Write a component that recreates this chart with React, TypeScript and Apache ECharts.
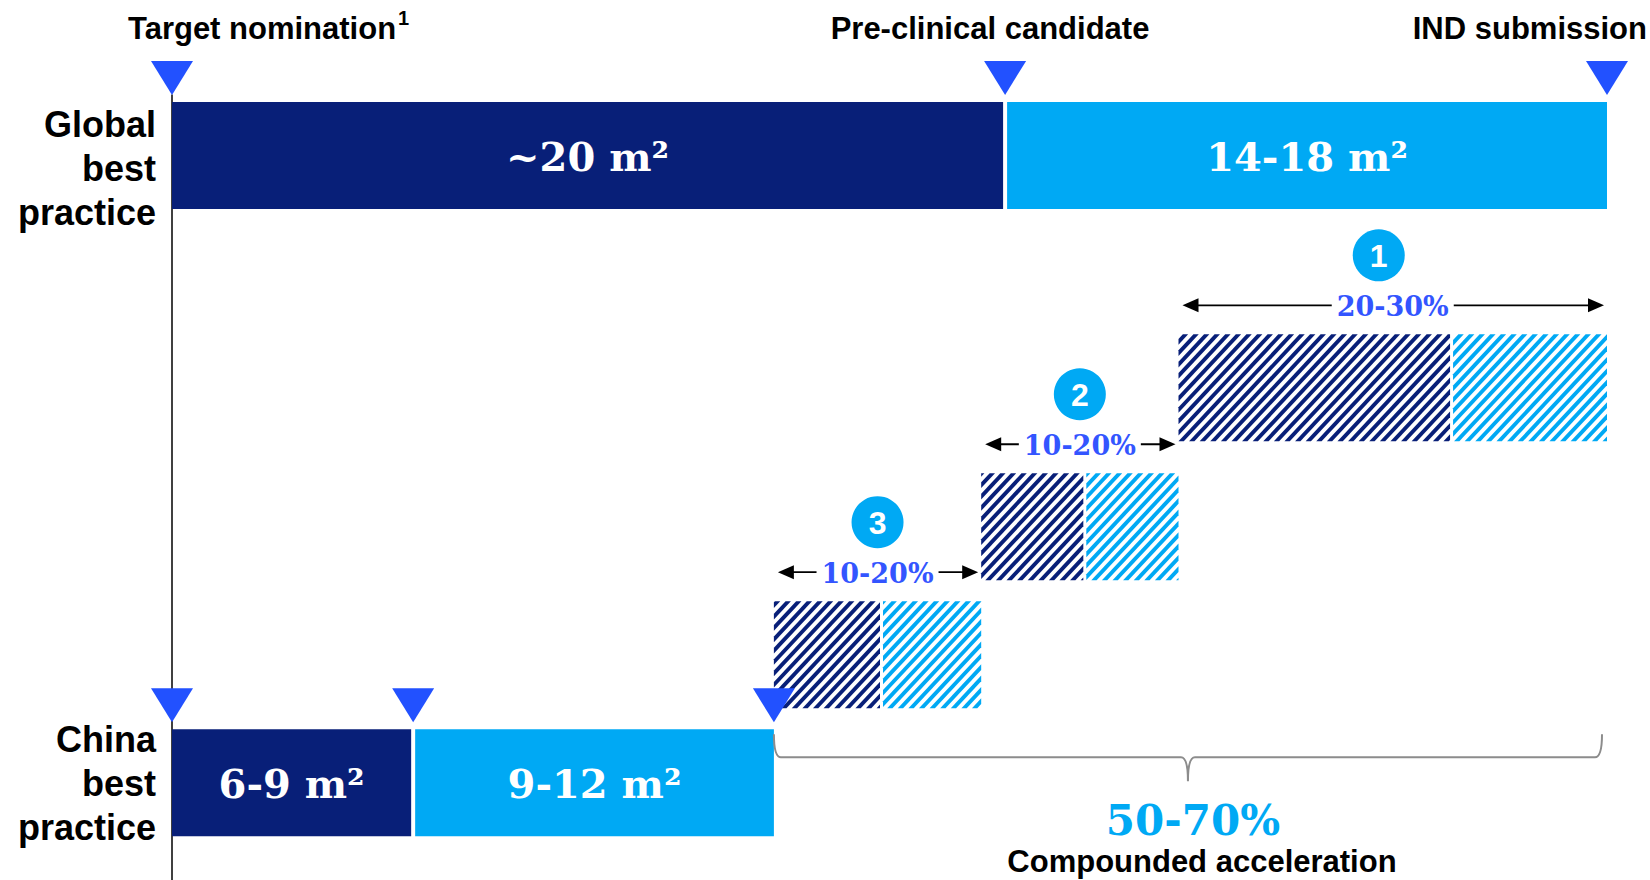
import React, { useEffect, useRef } from "react";
import * as echarts from "echarts";

// ---------- data (schematic timeline, months) ----------
const milestoneNames = ["Target nomination", "Pre-clinical candidate", "IND submission"];
const milestoneNotes = ["1", "", ""];
const rowNames = ["Global\nbest\npractice", "China\nbest\npractice"];
const rowLevels = [7.7, 87.6];
const globalStarts = [0, 20.9];
const globalEnds = [20.9, 36];
const globalLabels = ["~20 m²", "14-18 m²"];
const chinaStarts = [0, 6.05];
const chinaEnds = [6.05, 15.1];
const chinaLabels = ["6-9 m²", "9-12 m²"];
const globalMilestones = [0, 20.9, 36];
const chinaMilestones = [0, 6.05, 15.1];
const leverIds = ["1", "2", "3"];
const leverStarts = [25.25, 20.3, 15.1];
const leverSplits = [32.1, 22.9, 17.8];
const leverEnds = [36, 25.25, 20.3];
const leverLevels = [37.3, 55.0, 71.3];
const leverRanges = ["20-30%", "10-20%", "10-20%"];
const compoundedRange = "50-70%";
const compoundedLabel = "Compounded acceleration";

// ---------- styles ----------
const NAVY = "#081F78";
const CYAN = "#00A9F4";
const TRI = "#2251FF";
const PCT = "#3355FF";
const SANS = '"Liberation Sans", Arial, sans-serif';
const SERIF = '"DejaVu Serif", Georgia, serif';
const BAR_H = 107;
const SEG_GAP = 4;
const STRIPE_PERIOD = 10.6;
const STRIPE_DUTY = 0.5;
const STRIPE_ANGLE = (47 * Math.PI) / 180;
const ROW_LABEL_SHIFT = [13, 1];
const CIRCLE_SHIFT = [-14, 0, 0];

type Pt = [number, number];

function clipPoly(poly: Pt[], fn: (p: Pt) => number): Pt[] {
  const out: Pt[] = [];
  for (let i = 0; i < poly.length; i++) {
    const cur = poly[i];
    const prev = poly[(i + poly.length - 1) % poly.length];
    const fc = fn(cur);
    const fp = fn(prev);
    const cIn = fc >= 0;
    const pIn = fp >= 0;
    if (cIn !== pIn) {
      const t = fp / (fp - fc);
      out.push([prev[0] + t * (cur[0] - prev[0]), prev[1] + t * (cur[1] - prev[1])]);
    }
    if (cIn) out.push(cur);
  }
  return out;
}

function stripes(x0: number, y0: number, x1: number, y1: number, color: string) {
  const s = Math.sin(STRIPE_ANGLE);
  const c = Math.cos(STRIPE_ANGLE);
  const f = (p: Pt) => p[0] * s + p[1] * c;
  const P = STRIPE_PERIOD * s;
  const rect: Pt[] = [
    [x0, y0],
    [x1, y0],
    [x1, y1],
    [x0, y1],
  ];
  const vals = rect.map(f);
  const fmin = Math.min(...vals);
  const fmax = Math.max(...vals);
  const children: any[] = [];
  for (let k = Math.floor(fmin / P) - 1; k <= Math.ceil(fmax / P); k++) {
    const a = k * P;
    const b = a + P * STRIPE_DUTY;
    let poly = clipPoly(rect, (p) => f(p) - a);
    poly = clipPoly(poly, (p) => b - f(p));
    if (poly.length >= 3) {
      children.push({ type: "polygon", shape: { points: poly }, style: { fill: color } });
    }
  }
  return children;
}

const solidLabels = [...globalLabels, ...chinaLabels];
const solidData = [
  ...globalStarts.map((s, i) => [s, globalEnds[i], rowLevels[0], i]),
  ...chinaStarts.map((s, i) => [s, chinaEnds[i], rowLevels[1], i]),
];
const milestoneData = [
  ...globalMilestones.map((m) => [m, rowLevels[0]]),
  ...chinaMilestones.map((m) => [m, rowLevels[1]]),
];
const leverData = leverIds.map((_, i) => [leverStarts[i], leverSplits[i], leverEnds[i], leverLevels[i]]);

const milestoneRich = {
  n: { font: `bold 31px ${SANS}`, fill: "#000", verticalAlign: "bottom", lineHeight: 36 },
  s: { font: `bold 20px ${SANS}`, fill: "#000", verticalAlign: "top", lineHeight: 36, padding: [0, 0, 0, 2] },
};

function milestoneText(i: number) {
  return milestoneNotes[i] ? `{n|${milestoneNames[i]}}{s|${milestoneNotes[i]}}` : `{n|${milestoneNames[i]}}`;
}

function buildOption(): any {
  const labelX = [128, 990, 1647];
  const labelAlign = ["left", "center", "right"];
  return {
    animation: false,
    grid: { left: 172, right: 43, top: 95, bottom: 0 },
    xAxis: { type: "value", min: 0, max: 36, show: false },
    yAxis: {
      type: "value",
      min: 0,
      max: 100,
      inverse: true,
      axisLine: { show: true, lineStyle: { color: "#000", width: 1.5 } },
      axisTick: { show: false },
      axisLabel: { show: false },
      splitLine: { show: false },
    },
    graphic: milestoneNames.map((_, i) => ({
      type: "text",
      x: labelX[i],
      y: 26,
      style: {
        text: milestoneText(i),
        rich: milestoneRich,
        font: `bold 31px ${SANS}`,
        fill: "#000",
        align: labelAlign[i],
        verticalAlign: "middle",
      },
    })),
    series: [
      {
        type: "custom",
        name: "phases",
        silent: true,
        clip: false,
        data: solidData,
        renderItem: (params: any, api: any) => {
          const x0 = api.value(0);
          const x1 = api.value(1);
          const lvl = api.value(2);
          const ph = api.value(3);
          const a = api.coord([x0, lvl]);
          const b = api.coord([x1, lvl]);
          const left = a[0] + (x0 > 0 ? SEG_GAP / 2 : 0);
          const right = b[0] - (ph === 0 ? SEG_GAP / 2 : 0);
          const top = a[1] - BAR_H / 2;
          return {
            type: "group",
            children: [
              {
                type: "rect",
                shape: { x: left, y: top, width: right - left, height: BAR_H },
                style: { fill: ph === 0 ? NAVY : CYAN },
              },
              {
                type: "text",
                x: (left + right) / 2,
                y: a[1] + 1,
                style: {
                  text: solidLabels[params.dataIndex],
                  font: `bold 40px ${SERIF}`,
                  fill: "#fff",
                  align: "center",
                  verticalAlign: "middle",
                },
              },
            ],
          };
        },
      },
      {
        type: "custom",
        name: "levers",
        silent: true,
        clip: false,
        data: leverData,
        renderItem: (params: any, api: any) => {
          const i = params.dataIndex;
          const lvl = api.value(3);
          const a = api.coord([api.value(0), lvl]);
          const m = api.coord([api.value(1), lvl]);
          const b = api.coord([api.value(2), lvl]);
          const top = a[1] - BAR_H / 2;
          const bottom = top + BAR_H;
          const children: any[] = [
            ...stripes(a[0], top, m[0] - 1.5, bottom, NAVY),
            ...stripes(m[0] + 1.5, top, b[0], bottom, CYAN),
          ];
          const ay = top - 29;
          const xl = a[0] + 4;
          const xr = b[0] - 3;
          const cx = (a[0] + b[0]) / 2;
          const ccx = cx + CIRCLE_SHIFT[i];
          children.push(
            { type: "line", shape: { x1: xl + 12, y1: ay, x2: xr - 12, y2: ay }, style: { stroke: "#000", lineWidth: 1.8 } },
            { type: "polygon", shape: { points: [[xl, ay], [xl + 16, ay - 7], [xl + 16, ay + 7]] }, style: { fill: "#000" } },
            { type: "polygon", shape: { points: [[xr, ay], [xr - 16, ay - 7], [xr - 16, ay + 7]] }, style: { fill: "#000" } },
            {
              type: "text",
              x: cx,
              y: ay + 1,
              style: {
                text: leverRanges[i],
                font: `bold 27px ${SERIF}`,
                fill: PCT,
                align: "center",
                verticalAlign: "middle",
                backgroundColor: "#fff",
                padding: [0, 5],
              },
            },
            { type: "circle", shape: { cx: ccx, cy: top - 79, r: 26 }, style: { fill: CYAN } },
            {
              type: "text",
              x: ccx,
              y: top - 78,
              style: {
                text: leverIds[i],
                font: `bold 32px ${SANS}`,
                fill: "#fff",
                align: "center",
                verticalAlign: "middle",
              },
            }
          );
          return { type: "group", children };
        },
      },
      {
        type: "custom",
        name: "milestones",
        silent: true,
        clip: false,
        data: milestoneData,
        renderItem: (params: any, api: any) => {
          const p = api.coord([api.value(0), api.value(1)]);
          const top = p[1] - BAR_H / 2;
          return {
            type: "polygon",
            shape: {
              points: [
                [p[0] - 21, top - 41],
                [p[0] + 21, top - 41],
                [p[0], top - 7],
              ],
            },
            style: { fill: TRI },
          };
        },
      },
      {
        type: "custom",
        name: "rows",
        silent: true,
        clip: false,
        data: rowLevels.map((l) => [0, l]),
        renderItem: (params: any, api: any) => {
          const p = api.coord([api.value(0), api.value(1)]);
          return {
            type: "text",
            x: p[0] - 16,
            y: p[1] + ROW_LABEL_SHIFT[params.dataIndex],
            style: {
              text: rowNames[params.dataIndex],
              font: `bold 36px ${SANS}`,
              lineHeight: 44,
              fill: "#000",
              align: "right",
              verticalAlign: "middle",
            },
          };
        },
      },
      {
        type: "custom",
        name: "compounded",
        silent: true,
        clip: false,
        data: [[chinaEnds[1], leverEnds[0], rowLevels[1]]],
        renderItem: (params: any, api: any) => {
          const a = api.coord([api.value(0), api.value(2)]);
          const b = api.coord([api.value(1), api.value(2)]);
          const top = a[1] - BAR_H / 2;
          const xl = a[0];
          const xr = b[0] - 5;
          const xc = (xl + xr) / 2;
          const y1 = top + 5;
          const y2 = top + 28;
          const tip = top + 52;
          const d =
            `M ${xl} ${y1} Q ${xl} ${y2} ${xl + 7} ${y2} L ${xc - 7} ${y2} Q ${xc} ${y2} ${xc} ${tip} ` +
            `M ${xc} ${tip} Q ${xc} ${y2} ${xc + 7} ${y2} L ${xr - 7} ${y2} Q ${xr} ${y2} ${xr} ${y1}`;
          return {
            type: "group",
            children: [
              { type: "path", shape: { pathData: d }, style: { stroke: "#8c8c8c", lineWidth: 2, fill: "none" } },
              {
                type: "text",
                x: xc + 5,
                y: tip + 39,
                style: {
                  text: compoundedRange,
                  font: `bold 42px ${SERIF}`,
                  fill: CYAN,
                  align: "center",
                  verticalAlign: "middle",
                },
              },
              {
                type: "text",
                x: xc + 14,
                y: tip + 80,
                style: {
                  text: compoundedLabel,
                  font: `bold 31px ${SANS}`,
                  fill: "#000",
                  align: "center",
                  verticalAlign: "middle",
                },
              },
            ],
          };
        },
      },
    ],
  };
}

export default function App() {
  const ref = useRef<HTMLDivElement>(null);
  useEffect(() => {
    const chart = echarts.init(ref.current!, null, { renderer: "svg" });
    chart.setOption(buildOption());
    return () => chart.dispose();
  }, []);
  return (
    <div
      ref={ref}
      style={{ position: "fixed", left: 0, top: 0, width: 1650, height: 880, background: "#fff" }}
    />
  );
}
